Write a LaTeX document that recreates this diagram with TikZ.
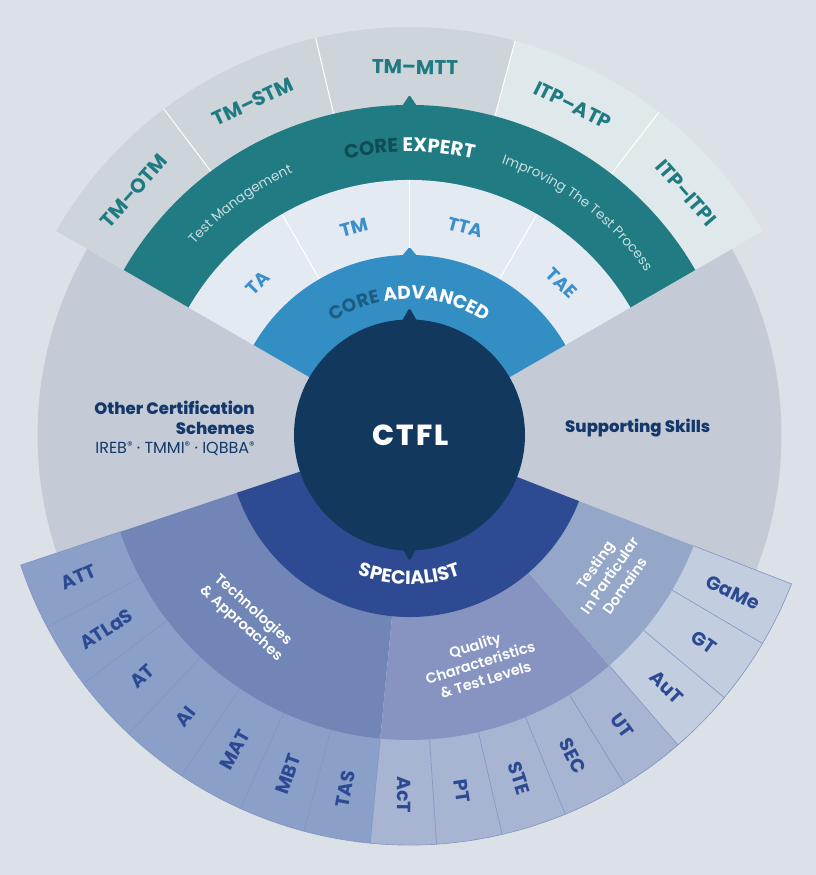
\documentclass[tikz,border=0pt]{standalone}
\usepackage{fontspec}
\setmainfont{Poppins}[BoldFont={Poppins Bold}]
\newfontfamily\popsemi{Poppins SemiBold}
\newfontfamily\popxb{Poppins ExtraBold}
\newfontfamily\popxbwide{Poppins ExtraBold}[LetterSpace=8]
\usetikzlibrary{decorations.text}
\definecolor{bgc}{HTML}{DCE0E7}
\definecolor{greysec}{HTML}{C4CBD6}
\definecolor{tmcell}{HTML}{CDD5DA}
\definecolor{itpcell}{HTML}{DFE8EA}
\definecolor{tealring}{HTML}{217B83}
\definecolor{tealtext}{HTML}{1F7A82}
\definecolor{coreexp}{HTML}{0F4D56}
\definecolor{tmtext}{HTML}{C8DEE0}
\definecolor{advwhite}{HTML}{E3EAF2}
\definecolor{advtext}{HTML}{3B8FCA}
\definecolor{advring}{HTML}{338EC3}
\definecolor{coreadv}{HTML}{1C5B82}
\definecolor{ctflc}{HTML}{12385E}
\definecolor{specring}{HTML}{2D4A93}
\definecolor{techmid}{HTML}{7185B6}
\definecolor{qualmid}{HTML}{8794C1}
\definecolor{dommid}{HTML}{94A7C8}
\definecolor{techcell}{HTML}{8BA0C8}
\definecolor{qualcell}{HTML}{A7B5D3}
\definecolor{domcell}{HTML}{C2CDE0}
\definecolor{celltext}{HTML}{2B4A93}
\definecolor{cellline}{HTML}{7F93C2}
\definecolor{navytext}{HTML}{14386A}
\newcommand\annsec[4]{(#1:#3) arc[start angle=#1,end angle=#2,radius=#3] -- (#2:#4) arc[start angle=#2,end angle=#1,radius=#4] -- cycle}
\newcommand\regmark{\raisebox{4pt}{\fontsize{11}{11}\selectfont ®}}
\begin{document}
\begin{tikzpicture}[x=1pt,y=1pt,
  toplab/.style={text=tealtext,font=\bfseries\fontsize{20}{20}\selectfont,inner sep=0pt},
  advlab/.style={text=advtext,font=\bfseries\fontsize{18.5}{18.5}\selectfont,inner sep=0pt},
  celllab/.style={text=celltext,font=\bfseries\fontsize{19}{19}\selectfont,inner sep=0pt},
  midlab/.style={text=white,font=\popsemi\fontsize{14.5}{18}\selectfont,align=center,inner sep=0pt},
  navylab/.style={text=navytext,inner sep=0pt},
  sepwhite/.style={draw=white,line width=1pt},
  sepcell/.style={draw=cellline,line width=0.6pt}]
\useasboundingbox (-409.5,-440) rectangle (406.5,435);
\fill[bgc] (-409.5,-440) rectangle (406.5,435);
% grey sectors
\fill[greysec] (0,0) -- (150:372) arc[start angle=150,end angle=198.5,radius=372] -- cycle;
\fill[greysec] (0,0) -- (-21.3:372) arc[start angle=-21.3,end angle=30,radius=372] -- cycle;
% top outer cells
\foreach \aa/\ab/\lab/\col [count=\i] in {127/150/TM–OTM/tmcell,103.3/127/TM–STM/tmcell,75/103.3/TM–MTT/tmcell,52.3/75/ITP–ATP/itpcell,30/52.3/ITP–ITPI/itpcell}{
  \fill[\col] \annsec{\aa}{\ab}{329}{408};
  \pgfmathsetmacro\am{(\aa+\ab)/2}
  \node[toplab,rotate=\am-90] (top\i) at (\am:368) {\lab};
}
\foreach \a in {127,103.3,75,52.3}{\draw[sepwhite] (\a:330) -- (\a:408);}
% expert ring
\fill[tealring] \annsec{30}{150}{254}{330};
\fill[tealring,rounded corners=1.5pt] (-10,325) -- (0,340) -- (10,325) -- cycle;
% advanced white cells
\fill[advwhite] \annsec{30}{150}{179}{255};
\foreach \a in {120,90,60}{\draw[sepwhite] (\a:180) -- (\a:255);}
\foreach \am/\lab [count=\i] in {135/TA,105/TM,75/TTA,45/TAE}{
  \node[advlab,rotate=\am-90] (adv\i) at (\am:215) {\lab};
}
% advanced ring
\fill[advring] \annsec{30}{150}{112}{180};
\fill[advring,rounded corners=1.5pt] (-10,176) -- (0,188) -- (10,176) -- cycle;
% specialist outer cells
\foreach \lab [count=\i from 0] in {ATT,ATLaS,AT,AI,MAT,MBT,TAS}{
  \pgfmathsetmacro\aa{198.5+\i*9.4286}
  \pgfmathsetmacro\ab{\aa+9.4286}
  \pgfmathsetmacro\am{\aa+4.7143}
  \fill[techcell] \annsec{\aa}{\ab}{304}{410};
  \node[celllab,rotate=\am-180] (tc\i) at (\am:360) {\lab};
}
\foreach \lab [count=\i from 0] in {AcT,PT,STE,SEC,UT}{
  \pgfmathsetmacro\aa{264.5+\i*9.28}
  \pgfmathsetmacro\ab{\aa+9.28}
  \pgfmathsetmacro\am{\aa+4.64}
  \fill[qualcell] \annsec{\aa}{\ab}{304}{410};
  \node[celllab,rotate=\am] (qc\i) at (\am:360) {\lab};
}
\foreach \lab [count=\i from 0] in {AuT,GT,GaMe}{
  \pgfmathsetmacro\aa{310.9+\i*9.267}
  \pgfmathsetmacro\ab{\aa+9.267}
  \pgfmathsetmacro\am{\aa+4.633}
  \fill[domcell] \annsec{\aa}{\ab}{304}{410};
  \node[celllab,rotate=\am] (dc\i) at (\am:360) {\lab};
}
\foreach \i in {1,...,6}{\pgfmathsetmacro\aa{198.5+\i*9.4286}\draw[sepcell] (\aa:305) -- (\aa:410);}
\foreach \i in {0,...,4}{\pgfmathsetmacro\aa{264.5+\i*9.28}\draw[sepcell] (\aa:305) -- (\aa:410);}
\foreach \i in {0,...,2}{\pgfmathsetmacro\aa{310.9+\i*9.267}\draw[sepcell] (\aa:305) -- (\aa:410);}
\draw[sepcell] (198.5:305) -- (198.5:410) arc[start angle=198.5,end angle=338.7,radius=410] -- (338.7:305);
% specialist middle
\fill[techmid] \annsec{198.5}{264.5}{180}{305};
\fill[qualmid] \annsec{264.5}{310.9}{180}{305};
\fill[dommid] \annsec{310.9}{338.7}{180}{305};
% specialist ring
\fill[specring] \annsec{198.5}{338.7}{112}{182};
% CTFL
\fill[ctflc] (0,0) circle[radius=115.5];
\fill[ctflc,rounded corners=1.5pt] (-10,110) -- (0,127) -- (10,110) -- cycle;
\fill[ctflc,rounded corners=1.5pt] (-9,-110) -- (0,-126) -- (9,-110) -- cycle;
\node[text=white,font=\popxbwide\fontsize{29}{29}\selectfont,inner sep=0pt] (ctfl) at (1,0) {CTFL};
% arc texts
\path[decorate,decoration={text along path,text align=center,
  text={|\bfseries\fontsize{19.5}{19.5}\selectfont\color{coreexp}|CORE |\bfseries\fontsize{19.5}{19.5}\selectfont\color{white}|EXPERT}}]
  (150:283) arc[start angle=150,end angle=30,radius=283];
\path[decorate,decoration={text along path,text align=center,
  text={|\fontsize{13.5}{13.5}\selectfont\color{tmtext}|Test Management}}]
  (150:287) arc[start angle=150,end angle=102.5,radius=287];
\path[decorate,decoration={text along path,text align=center,
  text={|\fontsize{13.5}{13.5}\selectfont\color{tmtext}|Improving The Test Process}}]
  (76:287) arc[start angle=76,end angle=30,radius=287];
\path[decorate,decoration={text along path,text align=center,
  text={|\bfseries\fontsize{18.5}{18.5}\selectfont\color{coreadv}|CORE |\bfseries\fontsize{18.5}{18.5}\selectfont\color{white}|ADVANCED}}]
  (150:136) arc[start angle=150,end angle=30,radius=136];
\path[decorate,decoration={text along path,text align=center,
  text={|\bfseries\fontsize{19}{19}\selectfont\color{white}|SPECIALIST}}]
  (200:149) arc[start angle=200,end angle=340,radius=149];
% middle labels
\node[midlab,rotate=-41.8] (techlab) at (228.2:244) {Technologies\\\& Approaches};
\node[midlab,rotate=17.3] (quallab) at (287.3:238) {Quality\\Characteristics\\\& Test Levels};
\node[midlab,rotate=55] (domlab) at (325:244.5) {Testing\\In Particular\\Domains};
% side labels
\node[navylab,anchor=base east,font=\popxb\fontsize{16.5}{16.5}\selectfont] (oc1) at (-154.5,20) {Other Certification};
\node[navylab,anchor=base east,font=\popxb\fontsize{16.5}{16.5}\selectfont] (oc2) at (-154.5,0) {Schemes};
\node[navylab,anchor=base east,font=\fontsize{16}{16}\selectfont] (oc3) at (-154.5,-19) {IREB\regmark{} · TMMI\regmark{} · IQBBA\regmark};
\node[navylab,anchor=base west,font=\popxb\fontsize{16.5}{16.5}\selectfont] (ss) at (155.5,2) {Supporting Skills};
\end{tikzpicture}
\end{document}
